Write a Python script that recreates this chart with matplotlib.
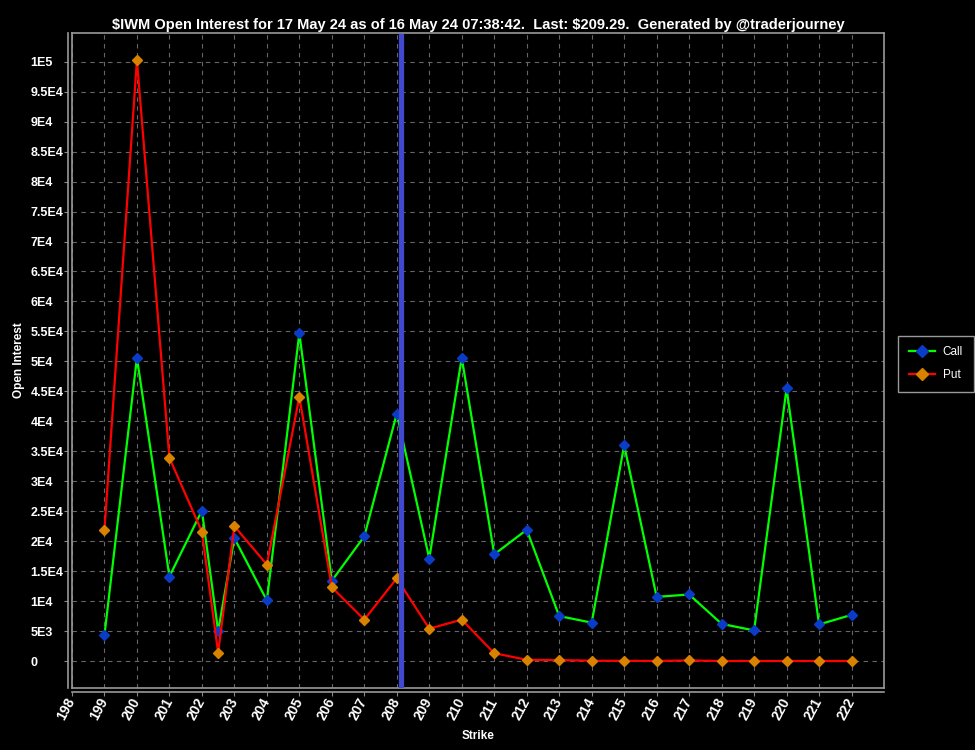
import matplotlib.pyplot as plt
from matplotlib.lines import Line2D

strikes = [199, 200, 201, 202, 202.5, 203, 204, 205, 206, 207, 208, 209, 210, 211,
           212, 213, 214, 215, 216, 217, 218, 219, 220, 221, 222]
calls = [4300, 50600, 14100, 25100, 5000, 20500, 10100, 54700, 13400, 20800, 41300,
         17100, 50600, 17800, 21900, 7500, 6400, 36000, 10700, 11100, 6200, 5100,
         45500, 6100, 7700]
puts = [21800, 100300, 33900, 21600, 1400, 22500, 16100, 44100, 12300, 6900, 13800,
        5400, 6900, 1300, 200, 150, 50, 30, 10, 100, 0, 0, 0, 0, 0]
last_price = 208.13
xticks = list(range(198, 223))
yticks = list(range(0, 100001, 5000))
ylabels = ['0'] + [('%gE3' % (v / 1000)) if v < 10000 else ('%gE4' % (v / 10000)) for v in yticks[1:-1]] + ['1E5']

plt.rcParams['font.family'] = ['Liberation Sans', 'DejaVu Sans']

fig = plt.figure(figsize=(9.75, 7.5), dpi=100, facecolor='black')
ax = fig.add_axes([0.0738, 0.0827, 0.9067 - 0.0738, 0.956 - 0.0827], facecolor='black')

# offset axis lines first (this resets ticks)
for s in ['left', 'bottom']:
    ax.spines[s].set_position(('outward', 3))
for s in ax.spines.values():
    s.set_color('#999999')
    s.set_linewidth(1.2)
ax.plot([0, 0], [0, 1], transform=ax.transAxes, color='#999999', lw=1.2, clip_on=False)
ax.plot([0, 1], [0, 0], transform=ax.transAxes, color='#999999', lw=1.2, clip_on=False)

ax.plot(strikes, calls, color='#00ff00', lw=1.6, marker='D', ms=5.5,
        mfc='#0a3cc8', mec='#0a3cc8', label='Call', zorder=3)
ax.plot(strikes, puts, color='#ff0000', lw=1.6, marker='D', ms=5.5,
        mfc='#d98200', mec='#d98200', label='Put', zorder=3)
ax.axvline(last_price, color='#4048d0', lw=3.8, ymax=0.995, zorder=4)

ax.set_xlim(198, 223)
ax.set_ylim(-4500, 104800)
ax.tick_params(axis='y', length=3, color='#888888', pad=24, labelcolor='white')
ax.tick_params(axis='x', length=3, color='#888888', pad=2, labelcolor='white')
ax.set_xticks(xticks)
ax.set_xticklabels([str(x) for x in xticks], rotation=62, ha='right', va='center',
                   rotation_mode='anchor', fontsize=10, fontweight='bold', color='white')
ax.set_yticks(yticks)
ax.set_yticklabels(ylabels, fontsize=9, fontweight='bold', color='white', ha='left')

ax.grid(True, color='#666666', ls=(0, (4, 4)), lw=0.8)

ax.set_title('\\$IWM Open Interest for 17 May 24 as of 16 May 24 07:38:42.  Last: \\$209.29.  Generated by @traderjourney',
             color='white', fontsize=10.5, fontweight='bold', pad=3)
ax.set_xlabel('Strike', color='white', fontsize=8.5, fontweight='bold', labelpad=5)
ax.set_ylabel('Open Interest', color='white', fontsize=8.5, fontweight='bold', labelpad=4)

handles = [Line2D([], [], color='#00ff00', lw=1.6, marker='D', ms=6, mfc='#0a3cc8', mec='#0a3cc8'),
           Line2D([], [], color='#ff0000', lw=1.6, marker='D', ms=6, mfc='#d98200', mec='#d98200')]
leg = fig.legend(handles, ['Call', 'Put'], loc='center left', bbox_to_anchor=(0.921, 0.515),
                 borderaxespad=0, facecolor='black', edgecolor='#999999', fancybox=False,
                 fontsize=8.5, labelcolor='white', handlelength=2.2, handletextpad=0.7,
                 borderpad=0.9, labelspacing=0.9, framealpha=1)
leg.get_frame().set_linewidth(1.0)

fig.savefig('out.png', dpi=100, facecolor='black')
